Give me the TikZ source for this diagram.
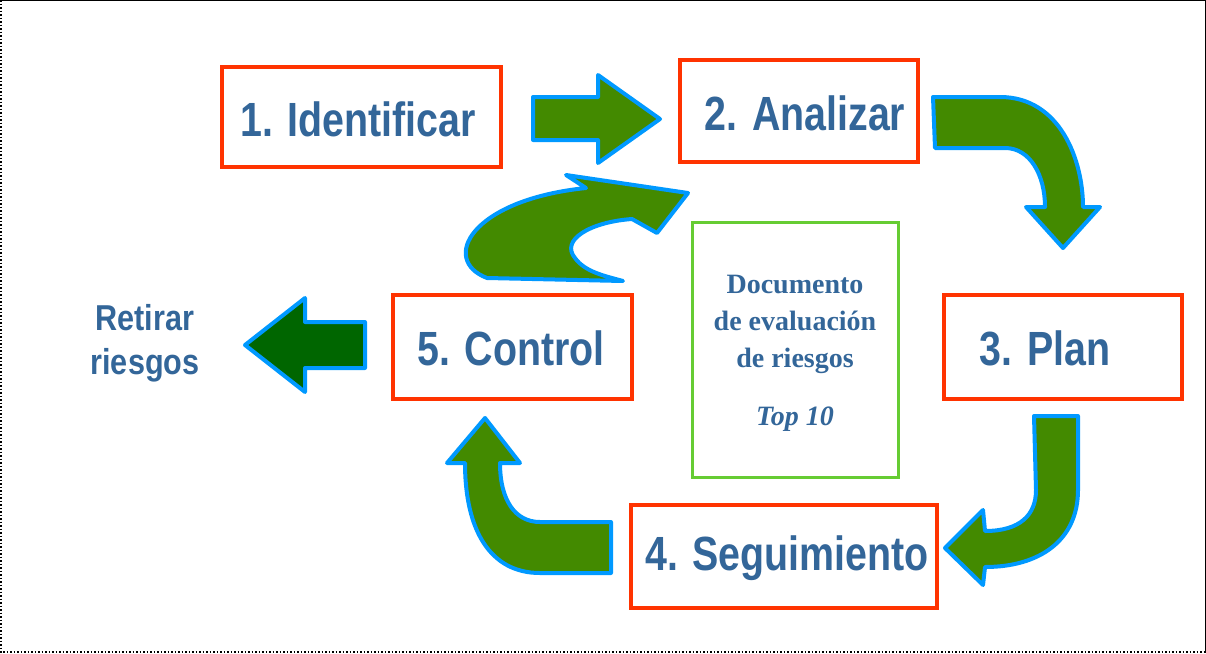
\documentclass[tikz,border=0pt]{standalone}
\usepackage{fontspec}
\setmainfont{Liberation Sans}
\newfontfamily\serifb{Liberation Serif}
\begin{document}
\begin{tikzpicture}[x=1pt,y=-1pt,
  stepbox/.style={draw=red!80!orange,line width=3.5pt,fill=white,inner sep=0pt},
  steplbl/.style={text=blue!40!gray!90!black,font=\bfseries\fontsize{48}{52}\selectfont,xscale=0.82},
  garrow/.style={fill=green!40!black!60!lime!80!black,draw=cyan!60!blue!80,line width=4pt,line join=round}]
\definecolor{tblue}{HTML}{336699}
\definecolor{garr}{HTML}{438A00}
\definecolor{barr}{HTML}{0099FF}
\definecolor{dgr}{HTML}{006600}
\definecolor{rbox}{HTML}{FF3300}
\definecolor{gbox}{HTML}{66CC33}
\tikzset{stepbox/.append style={draw=rbox},steplbl/.append style={text=tblue},garrow/.append style={fill=garr,draw=barr}}
\useasboundingbox (0,0) rectangle (1206,653);
\draw[line width=0.8pt] (0,0.4) -- (1205.6,0.4) -- (1205.6,652.6);
\draw[line width=1.5pt,dotted] (0.8,0) -- (0.8,652.2) -- (1206,652.2);
% boxes
\node[stepbox,minimum width=279pt,minimum height=100pt] (b1) at (361.5,117) {};
\node[steplbl] at (358,119) {1. Identificar};
\node[stepbox,minimum width=238pt,minimum height=102pt] (b2) at (799,111) {};
\node[steplbl] at (805,113) {2. Analizar};
\node[stepbox,minimum width=238pt,minimum height=104pt] (b3) at (1063,347) {};
\node[steplbl] at (1045,348) {3. Plan};
\node[stepbox,minimum width=306pt,minimum height=103pt] (b4) at (784,556.5) {};
\node[steplbl] at (787,558) {4. Seguimiento};
\node[stepbox,minimum width=239pt,minimum height=104pt] (b5) at (512.5,347) {};
\node[steplbl] at (511,348) {5. Control};
\node[draw=gbox,line width=3pt,minimum width=206pt,minimum height=255pt] (doc) at (795,349.5) {};
\node[text=tblue,align=center,font=\serifb\bfseries\fontsize{28}{37}\selectfont] (doct) at (795,324) {Documento\\de evaluación\\de riesgos};
\node[text=tblue,font=\serifb\bfseries\itshape\fontsize{28}{30}\selectfont] (top) at (795,419) {Top 10};
\node[text=tblue,align=center,font=\bfseries\fontsize{36}{44}\selectfont,xscale=0.85] (ret) at (145,343) {Retirar\\riesgos};
% arrows
\draw[garrow] (533,97) -- (598,97) -- (598,75) -- (660,119) -- (598,163) -- (598,140) -- (533,140) -- cycle;
\draw[garrow] (933,97) -- (1000,97) .. controls (1060,97) and (1083,160) .. (1083,207) -- (1100,207) -- (1063,248) -- (1026,207) -- (1045,207) .. controls (1045,175) and (1030,148) .. (1005,148) -- (935,148) -- cycle;
\draw[garrow] (1034,416) -- (1078,416) -- (1078,490) .. controls (1078,540) and (1040,567) .. (985,567) -- (983,585) -- (945,548) -- (983,510) -- (985,531) .. controls (1020,531) and (1036,515) .. (1036,490) -- cycle;
\draw[garrow] (611,573) -- (540,573) .. controls (490,573) and (465,530) .. (465,463) -- (447,463) -- (485,418) -- (520,463) -- (500,463) .. controls (500,500) and (515,522) .. (540,522) -- (611,522) -- cycle;
\draw[garrow,fill=dgr] (365,322) -- (305,322) -- (305,298) -- (245,345) -- (305,392) -- (305,368) -- (365,368) -- cycle;
\draw[garrow] (623,281) -- (487,278) .. controls (440,260) and (470,200) .. (586,188) -- (566,175) -- (688,193) -- (657,233) -- (632,219) .. controls (590,222) and (560,240) .. (575,258) .. controls (585,272) and (605,276) .. (623,281) -- cycle;
\end{tikzpicture}
\end{document}
